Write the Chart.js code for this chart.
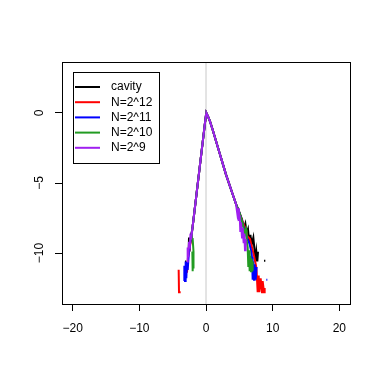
<!DOCTYPE html>
<html>
<head>
<meta charset="utf-8">
<script src="https://cdn.jsdelivr.net/npm/chart.js@4/dist/chart.umd.min.js"></script>
<style>
  html, body { margin: 0; padding: 0; background: #fff; }
</style>
</head>
<body>
<canvas id="chart" width="382" height="382"></canvas>
<script>
// values (log density vs x)
const xTicks = [-20, -10, 0, 10, 20];
const yTicks = [-10, -5, 0];

const cavityX = [-3.15, -2.95, -2.8, -2.6, -2.55, -2.5, -2.45, -2.4, -2.2, -2.0, -1.5, -1.0, -0.5, -0.2, 0.0, 0.1, 0.3, 0.6, 1.0, 1.5, 2.0, 2.5, 3.0, 3.5, 4.0, 4.5, 5.0, 5.4, 5.7, 5.9, 6.1, 6.3, 6.5, 6.6, 6.65, 6.7, 6.9, 7.1, 7.3, 7.4, 7.55, 7.7, 7.8, 8.2, 8.7, 8.9];
const cavityY = [-10.6, -10.6, null, -10.0, -8.9, -9.9, -9.0, -9.4, -8.7, -8.1, -6.1, -4.1, -2.1, -0.9, -0.15, -0.05, -0.25, -0.6, -1.2, -2.0, -2.8, -3.6, -4.4, -5.1, -5.8, -6.5, -7.1, -7.6, -8.2, -7.9, -8.6, -8.3, -9.3, -8.7, -9.3, -8.8, -9.3, -8.9, -9.9, -10.6, -9.9, -10.6, -9.9, null, -10.55, -10.55];

const n12X = [-4.1, -4.05, -3.8, -3.5, -3.3, -3.2, -3.0, -2.9, -2.85, -2.7, -2.5, -2.3, -2.0, -1.5, -1.0, -0.5, -0.2, 0.0, 0.1, 0.3, 0.6, 1.0, 1.5, 2.0, 2.5, 3.0, 3.5, 4.0, 4.5, 5.0, 5.5, 5.9, 6.2, 6.6, 6.9, 7.2, 7.5, 7.6, 7.75, 7.9, 8.0, 8.2, 8.4, 8.5, 8.7, 8.8];
const n12Y = [-11.2, -12.8, -12.8, null, -12.7, -12.7, null, -11.1, -11.4, -10.3, -9.8, -9.2, -8.1, -6.1, -4.1, -2.1, -0.9, -0.15, -0.05, -0.25, -0.6, -1.2, -2.0, -2.8, -3.6, -4.4, -5.1, -5.8, -6.5, -7.1, -7.8, -8.2, -8.8, -9.0, -9.6, -10.2, -10.9, -11.4, -12.8, -11.6, -12.8, -11.8, -12.8, -12.0, -12.8, -12.5];

const n11X = [-3.3, -3.25, -3.15, -3.05, -2.95, -2.85, -2.75, -2.6, -2.45, -2.3, -2.0, -1.5, -1.0, -0.5, -0.2, 0.0, 0.1, 0.3, 0.6, 1.0, 1.5, 2.0, 2.5, 3.0, 3.5, 4.0, 4.5, 5.0, 5.5, 5.9, 6.2, 6.5, 6.8, 6.9, 7.0, 7.1, 7.2, 7.3, 7.45, 7.6, 8.9, 9.05, 9.2];
const n11Y = [-12.0, -10.9, -12.0, -10.6, -11.8, -10.6, -11.2, -10.2, -9.5, -9.1, -8.1, -6.1, -4.1, -2.1, -0.9, -0.15, -0.05, -0.25, -0.6, -1.2, -2.0, -2.8, -3.6, -4.4, -5.1, -5.8, -6.5, -7.1, -7.9, -8.5, -9.0, -9.3, -9.9, -10.3, -11.9, -10.6, -11.9, -10.8, -11.9, -11.0, null, -11.9, -11.9];

const n10X = [-2.05, -2.0, -1.95, -1.9, -1.85, -2.0, -2.1, -1.5, -1.0, -0.5, -0.2, 0.0, 0.1, 0.3, 0.6, 1.0, 1.5, 2.0, 2.5, 3.0, 3.5, 4.0, 4.5, 5.0, 5.5, 5.8, 6.0, 6.1, 6.25, 6.35, 6.45, 6.55, 6.65, 6.75, 6.85, 6.95, 7.0];
const n10Y = [-9.9, -11.3, -10.2, -11.1, -9.9, -9.0, -8.5, -6.1, -4.1, -2.1, -0.9, -0.15, -0.05, -0.25, -0.6, -1.2, -2.0, -2.8, -3.6, -4.4, -5.1, -5.8, -6.5, -7.1, -7.9, -8.6, -8.3, -9.1, -9.6, -11.0, -9.8, -11.3, -10.2, -11.3, -10.4, -11.2, -10.6];

const n9X = [-2.85, -2.75, -2.65, -2.55, -2.45, -2.35, -2.2, -2.0, -1.5, -1.0, -0.5, -0.2, 0.0, 0.1, 0.3, 0.6, 1.0, 1.5, 2.0, 2.5, 3.0, 3.5, 4.0, 4.5, 4.7, 4.8, 4.95, 5.05, 5.15, 5.25, 5.4, 5.5, 5.65, 5.75, 5.85, 5.95];
const n9Y = [-10.6, -9.6, -10.3, -9.2, -9.7, -8.8, -8.9, -8.1, -6.1, -4.1, -2.1, -0.9, -0.15, -0.05, -0.25, -0.6, -1.2, -2.0, -2.8, -3.6, -4.4, -5.1, -5.8, -6.5, -7.2, -6.8, -7.7, -7.3, -8.5, -7.8, -8.9, -8.2, -9.3, -8.6, -9.8, -9.0];

const seriesNames = ['cavity', 'N=2^12', 'N=2^11', 'N=2^10', 'N=2^9'];
const seriesColors = ['#000000', '#ff0000', '#0000ff', '#229b22', '#a020f0'];
const seriesX = [cavityX, n12X, n11X, n10X, n9X];
const seriesY = [cavityY, n12Y, n11Y, n10Y, n9Y];

const FONT = '"Liberation Sans", Arial, Helvetica, sans-serif';
const minus = v => String(v).replace('-', '\u2212');

const datasets = seriesNames.map((name, i) => ({
  label: name,
  data: seriesX[i].map((x, j) => ({ x: x, y: seriesY[i][j] })),
  borderColor: seriesColors[i],
  borderWidth: 2,
  pointRadius: 0,
  showLine: true,
  spanGaps: false,
  tension: 0,
  order: seriesNames.length - i
}));

// grey reference line at x = 0
datasets.push({
  label: 'zero',
  data: [{ x: 0, y: -13.64 }, { x: 0, y: 3.64 }],
  borderColor: '#c8c8c8',
  borderWidth: 1,
  pointRadius: 0,
  showLine: true,
  order: 20
});

const rDecor = {
  id: 'rDecor',
  afterDraw(chart) {
    const ctx = chart.ctx;
    const a = chart.chartArea;
    const ys = chart.scales.y;
    ctx.save();
    // plot box
    ctx.strokeStyle = '#000';
    ctx.lineWidth = 1;
    ctx.strokeRect(a.left + 0.5, a.top + 0.5, a.right - a.left, a.bottom - a.top);
    // rotated y labels
    ctx.fillStyle = '#000';
    ctx.font = '12px ' + FONT;
    ctx.textAlign = 'center';
    ctx.textBaseline = 'middle';
    yTicks.forEach(v => {
      ctx.save();
      ctx.translate(40, ys.getPixelForValue(v));
      ctx.rotate(-Math.PI / 2);
      ctx.fillText(minus(v), 0, 0);
      ctx.restore();
    });
    // legend
    const lx = 73, ly = 72, lw = 86, lh = 91;
    ctx.strokeRect(lx + 0.5, ly + 0.5, lw, lh);
    ctx.textAlign = 'left';
    seriesNames.forEach((name, i) => {
      const y = 87 + i * 15.2;
      ctx.strokeStyle = seriesColors[i];
      ctx.lineWidth = 2;
      ctx.beginPath();
      ctx.moveTo(75, y);
      ctx.lineTo(100, y);
      ctx.stroke();
      ctx.fillStyle = '#000';
      ctx.fillText(name, 111, y);
    });
    ctx.restore();
  }
};

new Chart(document.getElementById('chart'), {
  type: 'scatter',
  data: { datasets: datasets },
  options: {
    responsive: false,
    animation: false,
    layout: { padding: { top: 62, right: 32, left: 0, bottom: 0 } },
    plugins: { legend: { display: false }, tooltip: { enabled: false } },
    scales: {
      x: {
        type: 'linear',
        min: -21.6,
        max: 21.6,
        afterBuildTicks: s => { s.ticks = xTicks.map(v => ({ value: v })); },
        afterFit: s => { s.height = 78; },
        grid: { drawOnChartArea: false, drawTicks: true, tickLength: 7, color: '#000' },
        border: { display: false },
        ticks: { color: '#000', font: { size: 12, family: FONT }, padding: 10, maxRotation: 0, callback: v => minus(v) }
      },
      y: {
        type: 'linear',
        min: -13.64,
        max: 3.64,
        afterBuildTicks: s => { s.ticks = yTicks.map(v => ({ value: v })); },
        afterFit: s => { s.width = 62; },
        grid: { drawOnChartArea: false, drawTicks: true, tickLength: 7, color: '#000' },
        border: { display: false },
        ticks: { color: 'rgba(0,0,0,0)', font: { size: 12, family: FONT } }
      }
    }
  },
  plugins: [rDecor]
});
</script>
</body>
</html>
